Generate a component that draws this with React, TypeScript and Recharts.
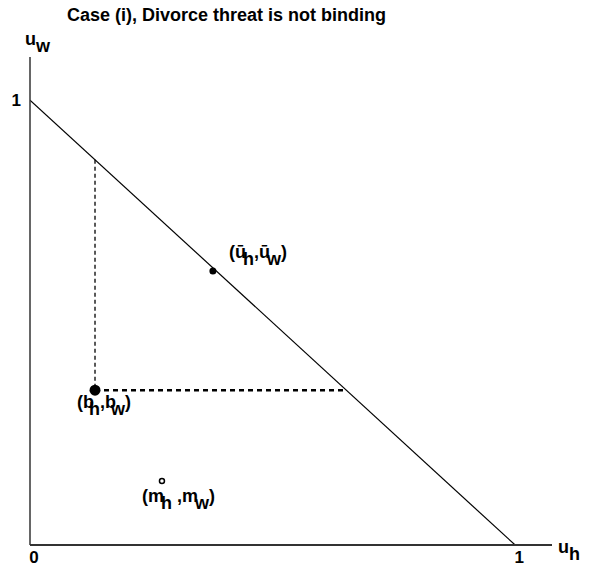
import React from "react";
import { ComposedChart, Line, Scatter, XAxis, YAxis, Label } from "recharts";

const frontier = [
  { uh: 0, uw: 1 },
  { uh: 1, uw: 0 },
];
const verticalGuide = [
  { uh: 0.134, uw: 0.866 },
  { uh: 0.134, uw: 0.348 },
];
const horizontalGuide = [
  { uh: 0.134, uw: 0.348 },
  { uh: 0.652, uw: 0.348 },
];
const threatPoint = [{ uh: 0.134, uw: 0.348 }];
const bargainPoint = [{ uh: 0.377, uw: 0.616 }];
const marriagePoint = [{ uh: 0.272, uw: 0.144 }];
const xTicks = [0, 1];
const yTicks = [1];

const FONT = "'Liberation Sans', Arial, Helvetica, sans-serif";
const LBL = 17;
const PT = 18;

const XTick = (props: any) => {
  const { x, y, payload } = props;
  return (
    <text x={x + 4} y={y + 10} textAnchor="middle" fontFamily={FONT} fontWeight="bold" fontSize={LBL} fill="#000">
      {payload.value}
    </text>
  );
};

const YTick = (props: any) => {
  const { x, y, payload } = props;
  return (
    <text x={x - 1} y={y + 6} textAnchor="end" fontFamily={FONT} fontWeight="bold" fontSize={LBL} fill="#000">
      {payload.value}
    </text>
  );
};

const BargainShape = (props: any) => {
  const { cx, cy } = props;
  return (
    <g>
      <circle cx={cx} cy={cy} r={3.5} fill="#000" />
      <text x={cx + 16} y={cy - 13} fontFamily={FONT} fontWeight="bold" fontSize={PT} fill="#000">
        (ū<tspan dx={-3} dy={7}>h</tspan>
        <tspan dy={-7}>,ū</tspan>
        <tspan dx={-3} dy={7}>w</tspan>
        <tspan dy={-7}>)</tspan>
      </text>
    </g>
  );
};

const ThreatShape = (props: any) => {
  const { cx, cy } = props;
  return (
    <g>
      <circle cx={cx} cy={cy} r={5.5} fill="#000" />
      <text x={cx - 18} y={cy + 18} fontFamily={FONT} fontWeight="bold" fontSize={PT} fill="#000">
        (b<tspan dx={-5} dy={7}>h</tspan>
        <tspan dy={-7}>,b</tspan>
        <tspan dx={-5} dy={7}>w</tspan>
        <tspan dy={-7}>)</tspan>
      </text>
    </g>
  );
};

const MarriageShape = (props: any) => {
  const { cx, cy } = props;
  return (
    <g>
      <circle cx={cx} cy={cy} r={2.5} fill="none" stroke="#000" strokeWidth={1.5} />
      <text x={cx - 20} y={cy + 21} fontFamily={FONT} fontWeight="bold" fontSize={PT} fill="#000">
        (m<tspan dx={-3} dy={7}>h</tspan>
        <tspan dy={-7}> ,m</tspan>
        <tspan dx={-3} dy={7}>w</tspan>
        <tspan dy={-7}>)</tspan>
      </text>
    </g>
  );
};

const XAxisLabel = (props: any) => {
  const { viewBox } = props;
  const x = viewBox.x + viewBox.width + 6;
  const y = viewBox.y + 8;
  return (
    <text x={x} y={y} fontFamily={FONT} fontWeight="bold" fontSize={PT} fill="#000">
      u<tspan dy={7}>h</tspan>
    </text>
  );
};

const YAxisLabel = (props: any) => {
  const { viewBox } = props;
  return (
    <text x={viewBox.x + 25} y={viewBox.y - 12} fontFamily={FONT} fontWeight="bold" fontSize={PT} fill="#000">
      u<tspan dy={7}>w</tspan>
    </text>
  );
};

export default function App() {
  return (
    <div style={{ position: "relative", width: 589, height: 571, margin: -8, background: "#fff" }}>
      <div
        style={{
          position: "absolute",
          left: 67,
          top: 5,
          fontFamily: FONT,
          fontWeight: "bold",
          fontSize: 18,
          lineHeight: "20px",
          color: "#000",
          whiteSpace: "nowrap",
        }}
      >
        Case (i), Divorce threat is not binding
      </div>
      <ComposedChart width={589} height={571} margin={{ top: 57, right: 37, bottom: 0, left: 0 }}>
        <XAxis
          type="number"
          dataKey="uh"
          domain={[0, 1.076]}
          ticks={xTicks}
          allowDataOverflow
          height={26}
          axisLine={{ stroke: "#333", strokeWidth: 2 }}
          tickLine={false}
          tick={<XTick />}
        >
          <Label content={<XAxisLabel />} />
        </XAxis>
        <YAxis
          type="number"
          dataKey="uw"
          domain={[0, 1.097]}
          ticks={yTicks}
          allowDataOverflow
          width={30}
          axisLine={{ stroke: "#333", strokeWidth: 1.5 }}
          tickLine={false}
          tick={<YTick />}
        >
          <Label content={<YAxisLabel />} />
        </YAxis>
        <Line data={frontier} dataKey="uw" stroke="#000" strokeWidth={1.2} dot={false} activeDot={false} isAnimationActive={false} />
        <Line data={verticalGuide} dataKey="uw" stroke="#000" strokeWidth={1.3} strokeDasharray="4 3" dot={false} activeDot={false} isAnimationActive={false} />
        <Line data={horizontalGuide} dataKey="uw" stroke="#000" strokeWidth={2.5} strokeDasharray="5 4" dot={false} activeDot={false} isAnimationActive={false} />
        <Scatter data={bargainPoint} dataKey="uw" shape={<BargainShape />} isAnimationActive={false} />
        <Scatter data={threatPoint} dataKey="uw" shape={<ThreatShape />} isAnimationActive={false} />
        <Scatter data={marriagePoint} dataKey="uw" shape={<MarriageShape />} isAnimationActive={false} />
      </ComposedChart>
    </div>
  );
}
